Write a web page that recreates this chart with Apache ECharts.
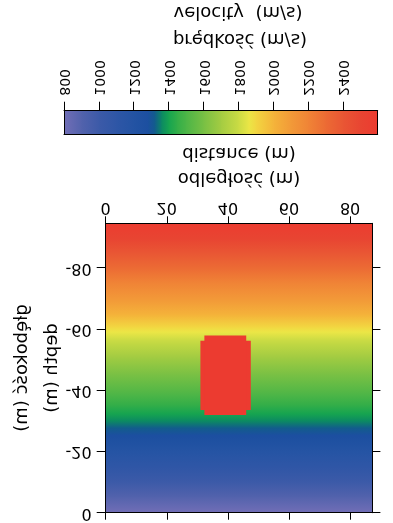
<!DOCTYPE html>
<html>
<head>
<meta charset="utf-8">
<script src="https://cdn.jsdelivr.net/npm/echarts@6/dist/echarts.min.js"></script>
<style>
html,body{margin:0;padding:0;background:#ffffff;}
#c{width:393px;height:523px;transform:scaleY(-1);}
</style>
</head>
<body>
<div id="c"></div>
<script>
// ---- data ----
const depthNodes    = [0, -5, -10, -15, -20, -25, -30, -35, -40, -45, -50, -55, -60, -65, -70, -75, -80, -85, -90, -94.7];
const velocityNodes = [800, 895, 1000, 1090, 1180, 1275, 1360, 1445, 1525, 1600, 1680, 1770, 1880, 2010, 2110, 2200, 2300, 2400, 2510, 2590];
const distanceMax = 87.3;
// anomaly: [xFrom, xTo, depthFrom, depthTo]
const anomalyBlocks = [[31.0, 47.5, -56.3, -33.6], [32.3, 46.0, -58.0, -32.0]];
const anomalyVelocity = 2600;
const xTicks = [0, 20, 40, 60, 80];
const yTicks = [0, -20, -40, -60, -80];
const cbTicks = [800, 1000, 1200, 1400, 1600, 1800, 2000, 2200, 2400];
const cbMin = 800, cbMax = 2600;
const cbStops  = [800, 900, 1000, 1100, 1200, 1280, 1320, 1360, 1400, 1450, 1500, 1600, 1700, 1800, 1860, 1900, 2000, 2100, 2200, 2300, 2400, 2500, 2600];
const cbColors = ['#716eb6','#5262ac','#3c5aa8','#2e56a6','#2353a3','#1c4fa0','#125c8c','#0c8a62','#16a450','#34ae48','#4cb547','#78c044','#a4cc42','#cadb44','#ebe646','#f2d641','#f4b43a','#f29a38','#f08436','#ec6b34','#e95634','#e84532','#ec3b30'];

// ---- helpers ----
function hexToRgb(h){h=h.replace('#','');return [parseInt(h.substr(0,2),16),parseInt(h.substr(2,2),16),parseInt(h.substr(4,2),16)];}
function mix(a,b,t){const A=hexToRgb(a),B=hexToRgb(b);return 'rgb('+A.map((v,i)=>Math.round(v+(B[i]-v)*t)).join(',')+')';}
function cmap(v){
  if (v<=cbStops[0]) return mix(cbColors[0],cbColors[0],0);
  for (let i=0;i<cbStops.length-1;i++){
    if (v<=cbStops[i+1]) return mix(cbColors[i],cbColors[i+1],(v-cbStops[i])/(cbStops[i+1]-cbStops[i]));
  }
  const l=cbColors[cbColors.length-1]; return mix(l,l,0);
}

const fieldData = [];
for (let i=0;i<depthNodes.length-1;i++){
  fieldData.push([0, distanceMax, depthNodes[i], depthNodes[i+1], velocityNodes[i], velocityNodes[i+1]]);
}
const anomalyData = anomalyBlocks.map(b => [b[0], b[1], b[2], b[3], anomalyVelocity]);
const cbData = [];
for (let i=0;i<cbStops.length-1;i++) cbData.push([cbStops[i], cbStops[i+1]]);

const FONT = 'DejaVu Sans';

function renderBand(params, api){
  const xa=api.value(0), xb=api.value(1), za=api.value(2), zb=api.value(3), va=api.value(4), vb=api.value(5);
  const pA=api.coord([xa,za]), pB=api.coord([xb,zb]);
  const x=Math.min(pA[0],pB[0]), y=Math.min(pA[1],pB[1]);
  const w=Math.abs(pB[0]-pA[0]);
  const extra = params.dataIndex < params.dataInsideLength-1 ? 0.8 : 0;
  const h=Math.abs(pB[1]-pA[1])+extra;
  const pts=[{v:va},{v:vb}];
  for (const s of cbStops){ if ((s-va)*(s-vb)<0) pts.push({v:s}); }
  const stops = pts.map(p=>{
    const t=(p.v-va)/(vb-va);
    const yp=pA[1]+t*(pB[1]-pA[1]);
    return {offset:Math.max(0,Math.min(1,(yp-y)/h)), color:cmap(p.v)};
  }).sort((a,b)=>a.offset-b.offset);
  return {type:'rect', shape:{x:x,y:y,width:w,height:h},
    style:{fill:new echarts.graphic.LinearGradient(0,0,0,1,stops)}};
}
function renderBlock(params, api){
  const pA=api.coord([api.value(0),api.value(2)]), pB=api.coord([api.value(1),api.value(3)]);
  return {type:'rect', shape:{x:Math.min(pA[0],pB[0]),y:Math.min(pA[1],pB[1]),width:Math.abs(pB[0]-pA[0]),height:Math.abs(pB[1]-pA[1])},
    style:{fill:cmap(api.value(4))}};
}
function renderCb(params, api){
  const v0=api.value(0), v1=api.value(1);
  const pA=api.coord([v0,1]), pB=api.coord([v1,0]);
  const extra = params.dataIndex < params.dataInsideLength-1 ? 0.8 : 0;
  return {type:'rect', shape:{x:pA[0],y:pA[1],width:pB[0]-pA[0]+extra,height:pB[1]-pA[1]},
    style:{fill:new echarts.graphic.LinearGradient(0,0,1,0,[{offset:0,color:cmap(v0)},{offset:1,color:cmap(v1)}])}};
}

const lineStyle = {color:'#000', width:1};
const plain = v => String(v);
const chart = echarts.init(document.getElementById('c'), null, {renderer:'canvas'});
chart.setOption({
  animation:false,
  backgroundColor:'#ffffff',
  textStyle:{fontFamily:FONT, color:'#000'},
  grid:[
    {left:105.7, top:10.3, width:266.7, height:289.4, outerBoundsMode:'none'},
    {left:64, top:388.7, width:313.7, height:23.6, outerBoundsMode:'none'}
  ],
  xAxis:[
    {type:'value', gridIndex:0, position:'bottom', min:0, max:distanceMax, z:10,
     axisLine:{onZero:false, lineStyle:lineStyle},
     axisTick:{inside:false, length:7, lineStyle:lineStyle, customValues:xTicks},
     axisLabel:{customValues:xTicks, fontSize:16, color:'#000', fontFamily:FONT, margin:8, formatter:plain},
     splitLine:{show:false},
     name:'odległość (m)\ndistance (m)', nameLocation:'middle', nameGap:33, nameMoveOverlap:false,
     nameTextStyle:{fontSize:18, color:'#000', fontFamily:FONT, lineHeight:25}},
    {type:'value', gridIndex:0, position:'top', min:0, max:distanceMax, z:10,
     axisLine:{onZero:false, lineStyle:lineStyle},
     axisTick:{inside:false, length:7, lineStyle:lineStyle, customValues:xTicks},
     axisLabel:{show:false}, splitLine:{show:false}},
    {type:'value', gridIndex:1, position:'bottom', min:cbMin, max:cbMax, z:10,
     axisLine:{onZero:false, lineStyle:lineStyle},
     axisTick:{inside:false, length:9, lineStyle:lineStyle, customValues:cbTicks},
     axisLabel:{customValues:cbTicks, rotate:-90, fontSize:14, color:'#000', fontFamily:FONT, margin:15, formatter:plain},
     splitLine:{show:false}},
    {type:'value', gridIndex:1, position:'top', min:cbMin, max:cbMax, z:10,
     axisLine:{onZero:false, lineStyle:lineStyle},
     axisTick:{show:false}, axisLabel:{show:false}, splitLine:{show:false}}
  ],
  yAxis:[
    {type:'value', gridIndex:0, position:'left', min:-94.7, max:0, z:10,
     axisLine:{show:true, onZero:false, lineStyle:lineStyle},
     axisTick:{show:true, inside:false, length:9, lineStyle:lineStyle, customValues:yTicks},
     axisLabel:{customValues:yTicks, fontSize:16, color:'#000', fontFamily:FONT, margin:14, formatter:plain},
     splitLine:{show:false},
     name:'głębokość (m)\ndepth (m)', nameLocation:'middle', nameRotate:90, nameGap:38, nameMoveOverlap:false,
     nameTextStyle:{fontSize:18, color:'#000', fontFamily:FONT, lineHeight:30}},
    {type:'value', gridIndex:0, position:'right', min:-94.7, max:0, z:10,
     axisLine:{show:true, onZero:false, lineStyle:lineStyle},
     axisTick:{show:true, inside:false, length:8, lineStyle:lineStyle, customValues:yTicks},
     axisLabel:{show:false}, splitLine:{show:false}},
    {type:'value', gridIndex:1, position:'left', min:0, max:1, z:10,
     axisLine:{show:true, onZero:false, lineStyle:lineStyle},
     axisTick:{show:false}, axisLabel:{show:false}, splitLine:{show:false}},
    {type:'value', gridIndex:1, position:'right', min:0, max:1, z:10,
     axisLine:{show:true, onZero:false, lineStyle:lineStyle},
     axisTick:{show:false}, axisLabel:{show:false}, splitLine:{show:false}}
  ],
  graphic:[
    {type:'text', x:240, y:484, style:{text:'prędkość (m/s)', fill:'#000', font:'18px "DejaVu Sans"', align:'center', verticalAlign:'middle'}},
    {type:'text', x:238, y:511, style:{text:'velocity  (m/s)', fill:'#000', font:'18px "DejaVu Sans"', align:'center', verticalAlign:'middle'}}
  ],
  series:[
    {type:'custom', name:'velocity field', xAxisIndex:0, yAxisIndex:0, data:fieldData, renderItem:renderBand, z:2},
    {type:'custom', name:'anomaly', xAxisIndex:0, yAxisIndex:0, data:anomalyData, renderItem:renderBlock, z:3},
    {type:'custom', name:'colour scale', xAxisIndex:2, yAxisIndex:2, data:cbData, renderItem:renderCb, z:2}
  ]
});
</script>
</body>
</html>
